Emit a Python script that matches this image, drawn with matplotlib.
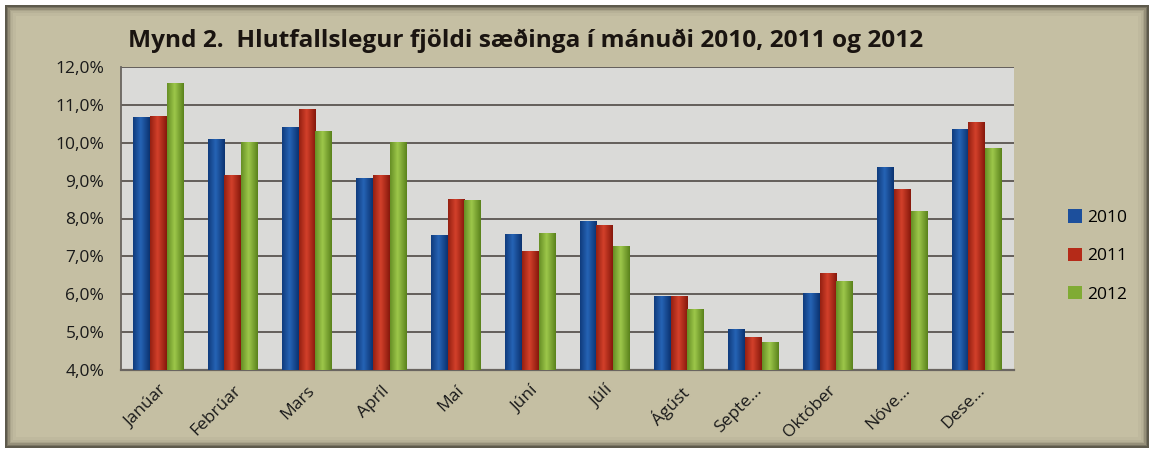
import numpy as np
import matplotlib
matplotlib.use("Agg")
import matplotlib.pyplot as plt
from matplotlib.patches import Rectangle
from matplotlib.colors import LinearSegmentedColormap

# ---------------------------------------------------------------------
# Data
# ---------------------------------------------------------------------
months = ["Janúar", "Febrúar", "Mars", "Apríl", "Maí", "Júní", "Júlí",
          "Ágúst", "Septe…", "Október", "Nóve…", "Dese…"]
years = ["2010", "2011", "2012"]
share_2010 = [10.68, 10.09, 10.42, 9.07, 7.56, 7.58, 7.93, 5.95, 5.07, 6.04, 9.36, 10.35]
share_2011 = [10.70, 9.14, 10.89, 9.14, 8.52, 7.15, 7.82, 5.95, 4.87, 6.55, 8.78, 10.55]
share_2012 = [11.57, 10.03, 10.30, 10.03, 8.48, 7.62, 7.27, 5.60, 4.73, 6.35, 8.20, 9.85]
yticks = [4, 5, 6, 7, 8, 9, 10, 11, 12]

series = [share_2010, share_2011, share_2012]
# (edge, centre) colours for the cylinder look
bar_cols = [("#0b3270", "#2563b4"), ("#86180c", "#d2402a"), ("#5a821c", "#9cc64a")]
legend_cols = ["#1c4f9c", "#b52a18", "#80ab34"]

FRAME = "#c5bfa3"

fig = plt.figure(figsize=(11.55, 4.51), dpi=100)
fig.patch.set_facecolor("white")

# beveled outer frame
fx0, fy0, fx1, fy1 = 5, 5, 1149, 448
bevel = ["#5e5a4c", "#7a7563", "#958f79", "#aaa48b", "#b7b197", "#bfb99e"]
for i, c in enumerate(bevel):
    x0 = fx0 + i * 1.6
    y0 = fy0 + i * 1.6
    w = (fx1 - fx0) - 2 * i * 1.6
    h = (fy1 - fy0) - 2 * i * 1.6
    fig.patches.append(Rectangle((x0 / 1155, 1 - (y0 + h) / 451), w / 1155, h / 451,
                                 transform=fig.transFigure, facecolor=c,
                                 edgecolor="none", zorder=-10 + i * 0.1))
fig.patches.append(Rectangle(((fx0 + 11) / 1155, 1 - (fy1 - 11) / 451),
                             (fx1 - fx0 - 22) / 1155, (fy1 - fy0 - 22) / 451,
                             transform=fig.transFigure, facecolor=FRAME,
                             edgecolor="none", zorder=-8))

ax = fig.add_axes([121 / 1155, 1 - 370 / 451, (1014 - 121) / 1155, (370 - 67) / 451])
ax.set_zorder(2)
ax.set_facecolor("#dadad8")

x = np.arange(len(months))
width = 0.225
offsets = [-width, 0, width]

grad = np.linspace(0, 1, 64)
grad = 1 - np.abs(grad - 0.45) / 0.55
grad = np.clip(grad, 0, 1)[None, :]

for vals, off, (c_edge, c_mid) in zip(series, offsets, bar_cols):
    bars = ax.bar(x + off, np.array(vals) - yticks[0], width, bottom=yticks[0],
                  color=c_mid, edgecolor="none", zorder=3)
    cmap = LinearSegmentedColormap.from_list("g", [c_edge, c_mid])
    for b in bars:
        bx, by = b.get_x(), b.get_y()
        bw, bh = b.get_width(), b.get_height()
        im = ax.imshow(grad, cmap=cmap, aspect="auto", interpolation="bilinear",
                       extent=(bx, bx + bw, by, by + bh), zorder=3)
        im.set_clip_path(b)

ax.set_xlim(-0.5, len(months) - 0.5)
ax.set_ylim(yticks[0], yticks[-1])
ax.set_yticks(yticks)
ax.set_yticklabels([f"{t:.1f}%".replace(".", ",") for t in yticks],
                   fontsize=12.5, color="#1a1a1a", family="Open Sans")
ax.yaxis.grid(True, color="#5a5550", linewidth=1.3, zorder=1)
ax.set_axisbelow(True)
ax.tick_params(axis="y", length=0, pad=12)
ax.tick_params(axis="x", length=0, pad=9)
ax.set_xticks(x)
ax.set_xticklabels(months, rotation=45, ha="right", rotation_mode="anchor",
                   fontsize=12.5, color="#1a1a1a", family="Open Sans")
for s in ["top", "right"]:
    ax.spines[s].set_visible(False)
ax.spines["left"].set_color("#6a6560")
ax.spines["bottom"].set_color("#6a6560")
ax.spines["left"].set_linewidth(1.3)
ax.spines["bottom"].set_linewidth(1.6)

fig.text(128 / 1155, 1 - 41 / 451, "Mynd 2.  Hlutfallslegur fjöldi sæðinga í mánuði 2010, 2011 og 2012",
         fontsize=17.6, fontweight="bold", family="Open Sans", color="#1a1410",
         ha="left", va="center")

handles = [Rectangle((0, 0), 1, 1, facecolor=c, edgecolor="none") for c in legend_cols]
leg = fig.legend(handles, years, loc="center left",
                 bbox_to_anchor=(1052 / 1155, 1 - 256 / 451),
                 frameon=False, handlelength=0.8, handleheight=0.8,
                 handletextpad=0.3, labelspacing=1.25,
                 prop={"family": "Open Sans", "size": 12.5})
leg.set_zorder(3)

fig.savefig("out.png", dpi=100, facecolor=fig.get_facecolor())
